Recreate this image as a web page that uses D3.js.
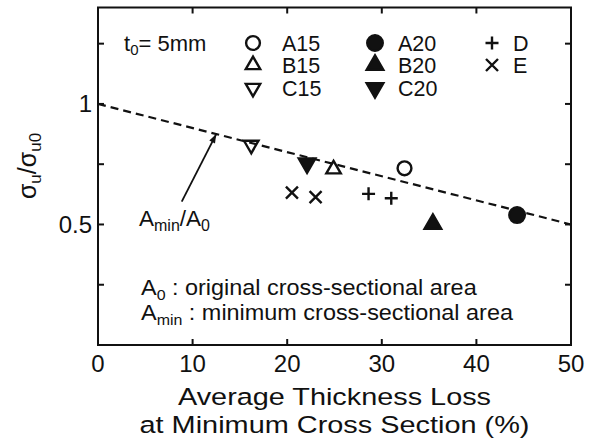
<!DOCTYPE html>
<html>
<head>
<meta charset="utf-8">
<script src="https://cdn.jsdelivr.net/npm/d3@7"></script>
<style>
  body { margin: 0; background: #fff; }
  svg { font-family: "Liberation Sans", Arial, sans-serif; }
</style>
</head>
<body>
<svg width="600" height="444"></svg>
<script>
// plot values: [thickness loss %, sigma_u / sigma_u0]
const seriesA15 = [[32.4, 0.733]];
const seriesA20 = [[44.3, 0.539]];
const seriesB15 = [[24.9, 0.729]];
const seriesB20 = [[35.4, 0.502]];
const seriesC15 = [[16.2, 0.830]];
const seriesC20 = [[22.1, 0.754]];
const seriesD   = [[28.6, 0.627], [31.0, 0.609]];
const seriesE   = [[20.5, 0.632], [23.0, 0.613]];

// Amin/A0 line
const refLine = [[0, 1], [50, 0.5]];

const xTicks = [0, 10, 20, 30, 40, 50];
const yTicks = [0.25, 0.5, 0.75, 1, 1.25];
const yLabels = [0.5, 1];

const width = 600, height = 444;
const margin = {top: 7.5, right: 29, bottom: 99, left: 98};

const svg = d3.select('svg');

const x = d3.scaleLinear().domain([0, 50]).range([margin.left, width - margin.right]);
const y = d3.scaleLinear().domain([0, 1.4]).range([height - margin.bottom, margin.top]);

const ink = '#111';

// ticks on all four sides, pointing inward
const tk = 6;
const g = svg.append('g').attr('stroke', ink).attr('stroke-width', 2);
[10, 20, 30, 40].forEach(v => {
  g.append('line').attr('x1', x(v)).attr('x2', x(v)).attr('y1', y(0)).attr('y2', y(0) - tk);
  g.append('line').attr('x1', x(v)).attr('x2', x(v)).attr('y1', y(1.4)).attr('y2', y(1.4) + tk);
});
yTicks.forEach(v => {
  g.append('line').attr('x1', x(0)).attr('x2', x(0) + tk).attr('y1', y(v)).attr('y2', y(v));
  g.append('line').attr('x1', x(50)).attr('x2', x(50) - tk).attr('y1', y(v)).attr('y2', y(v));
});

// frame
svg.append('rect')
  .attr('x', x(0)).attr('y', y(1.4))
  .attr('width', x(50) - x(0)).attr('height', y(0) - y(1.4))
  .attr('fill', 'none').attr('stroke', ink).attr('stroke-width', 2);

// tick labels
svg.append('g').selectAll('text').data(xTicks).join('text')
  .attr('x', d => x(d)).attr('y', y(0) + 27)
  .attr('text-anchor', 'middle').attr('font-size', 24).attr('fill', ink)
  .text(d => d);
svg.append('g').selectAll('text').data(yLabels).join('text')
  .attr('x', x(0) - 6).attr('y', d => y(d) + 8.5)
  .attr('text-anchor', 'end').attr('font-size', 24).attr('fill', ink)
  .text(d => d);

// axis titles (scan is a bit wider than the font, so stretch to measured width)
const midX = (x(0) + x(50)) / 2;
svg.append('text').attr('x', midX - 156.5).attr('y', 405)
  .attr('font-size', 24.5).attr('fill', ink)
  .attr('textLength', 313).attr('lengthAdjust', 'spacingAndGlyphs')
  .text('Average Thickness Loss');
svg.append('text').attr('x', midX - 195).attr('y', 433)
  .attr('font-size', 24.5).attr('fill', ink)
  .attr('textLength', 390).attr('lengthAdjust', 'spacingAndGlyphs')
  .text('at Minimum Cross Section (%)');

const yt = svg.append('text')
  .attr('transform', 'translate(36,166) rotate(-90)')
  .attr('text-anchor', 'middle').attr('font-size', 25).attr('fill', ink);
yt.append('tspan').text('σ');
yt.append('tspan').attr('font-size', 17).attr('dy', 5).text('u');
yt.append('tspan').attr('dy', -5).text('/σ');
yt.append('tspan').attr('font-size', 17).attr('dy', 5).text('u0');

// dashed reference line
svg.append('path')
  .datum(refLine)
  .attr('d', d3.line().x(d => x(d[0])).y(d => y(d[1])))
  .attr('fill', 'none').attr('stroke', ink).attr('stroke-width', 2.2)
  .attr('stroke-dasharray', '8,5');

// arrow to the line
const tail = [8.85, 0.595], tip = [12.5, 0.875];
svg.append('line')
  .attr('x1', x(tail[0])).attr('y1', y(tail[1]))
  .attr('x2', x(tip[0])).attr('y2', y(tip[1]))
  .attr('stroke', ink).attr('stroke-width', 1.8);
const ang = Math.atan2(y(tip[1]) - y(tail[1]), x(tip[0]) - x(tail[0])) * 180 / Math.PI;
svg.append('path')
  .attr('d', 'M0,0 L-9,-3.2 L-9,3.2 Z')
  .attr('transform', `translate(${x(tip[0])},${y(tip[1])}) rotate(${ang})`)
  .attr('fill', ink);

const al = svg.append('text').attr('x', 139).attr('y', 226).attr('font-size', 22.5).attr('fill', ink);
al.append('tspan').text('A');
al.append('tspan').attr('font-size', 16).attr('dy', 5).text('min');
al.append('tspan').attr('dy', -5).text('/A');
al.append('tspan').attr('font-size', 16).attr('dy', 5).text('0');

// markers
const sym = (type, size) => d3.symbol().type(type).size(size)();
const styles = {
  A15: {d: sym(d3.symbolCircle, 150), fill: 'none', rot: 0},
  A20: {d: sym(d3.symbolCircle, 190), fill: ink, rot: 0},
  B15: {d: sym(d3.symbolTriangle, 90), fill: 'none', rot: 0},
  B20: {d: sym(d3.symbolTriangle, 120), fill: ink, rot: 0},
  C15: {d: sym(d3.symbolTriangle, 90), fill: 'none', rot: 180},
  C20: {d: sym(d3.symbolTriangle, 120), fill: ink, rot: 180},
  D:   {d: 'M-6.5,0H6.5M0,-6.5V6.5', fill: 'none', rot: 0},
  E:   {d: 'M-6,-6L6,6M-6,6L6,-6', fill: 'none', rot: 0}
};
const series = [
  ['A15', seriesA15], ['A20', seriesA20], ['B15', seriesB15], ['B20', seriesB20],
  ['C15', seriesC15], ['C20', seriesC20], ['D', seriesD], ['E', seriesE]
];
series.forEach(([name, pts]) => {
  const s = styles[name];
  svg.append('g').selectAll('path').data(pts).join('path')
    .attr('d', s.d)
    .attr('transform', d => `translate(${x(d[0])},${y(d[1])}) rotate(${s.rot})`)
    .attr('fill', s.fill).attr('stroke', ink).attr('stroke-width', 2.4);
});

// legend
const legendRows = [43, 65, 88];
const legendItems = [
  {name: 'A15', mx: 253, tx: 282, row: 0}, {name: 'B15', mx: 253, tx: 282, row: 1}, {name: 'C15', mx: 253, tx: 282, row: 2},
  {name: 'A20', mx: 375, tx: 398, row: 0}, {name: 'B20', mx: 375, tx: 398, row: 1}, {name: 'C20', mx: 375, tx: 398, row: 2},
  {name: 'D', mx: 492, tx: 513, row: 0}, {name: 'E', mx: 492, tx: 513, row: 1}
];
const lg = svg.append('g');
legendItems.forEach(it => {
  const s = styles[it.name];
  lg.append('path').attr('d', s.d)
    .attr('transform', `translate(${it.mx},${legendRows[it.row]}) rotate(${s.rot})`)
    .attr('fill', s.fill).attr('stroke', ink).attr('stroke-width', 2.4);
  lg.append('text').attr('x', it.tx).attr('y', legendRows[it.row] + 8)
    .attr('font-size', 21.5).attr('fill', ink).text(it.name);
});

const t0 = svg.append('text').attr('x', 124).attr('y', 51).attr('font-size', 22).attr('fill', ink);
t0.append('tspan').text('t');
t0.append('tspan').attr('font-size', 15).attr('dy', 4).text('0');
t0.append('tspan').attr('dy', -4).text('= 5mm');

// notes
const notes = svg.append('g').attr('transform', 'translate(141,0) scale(1.065,1)');
const n1 = notes.append('text').attr('x', 0).attr('y', 295).attr('font-size', 22).attr('fill', ink);
n1.append('tspan').text('A');
n1.append('tspan').attr('font-size', 15).attr('dy', 5).text('0');
n1.append('tspan').attr('dy', -5).text(' : original cross-sectional area');
const n2 = notes.append('text').attr('x', 0).attr('y', 320).attr('font-size', 22).attr('fill', ink);
n2.append('tspan').text('A');
n2.append('tspan').attr('font-size', 15).attr('dy', 5).text('min');
n2.append('tspan').attr('dy', -5).text(' : minimum cross-sectional area');
</script>
</body>
</html>
